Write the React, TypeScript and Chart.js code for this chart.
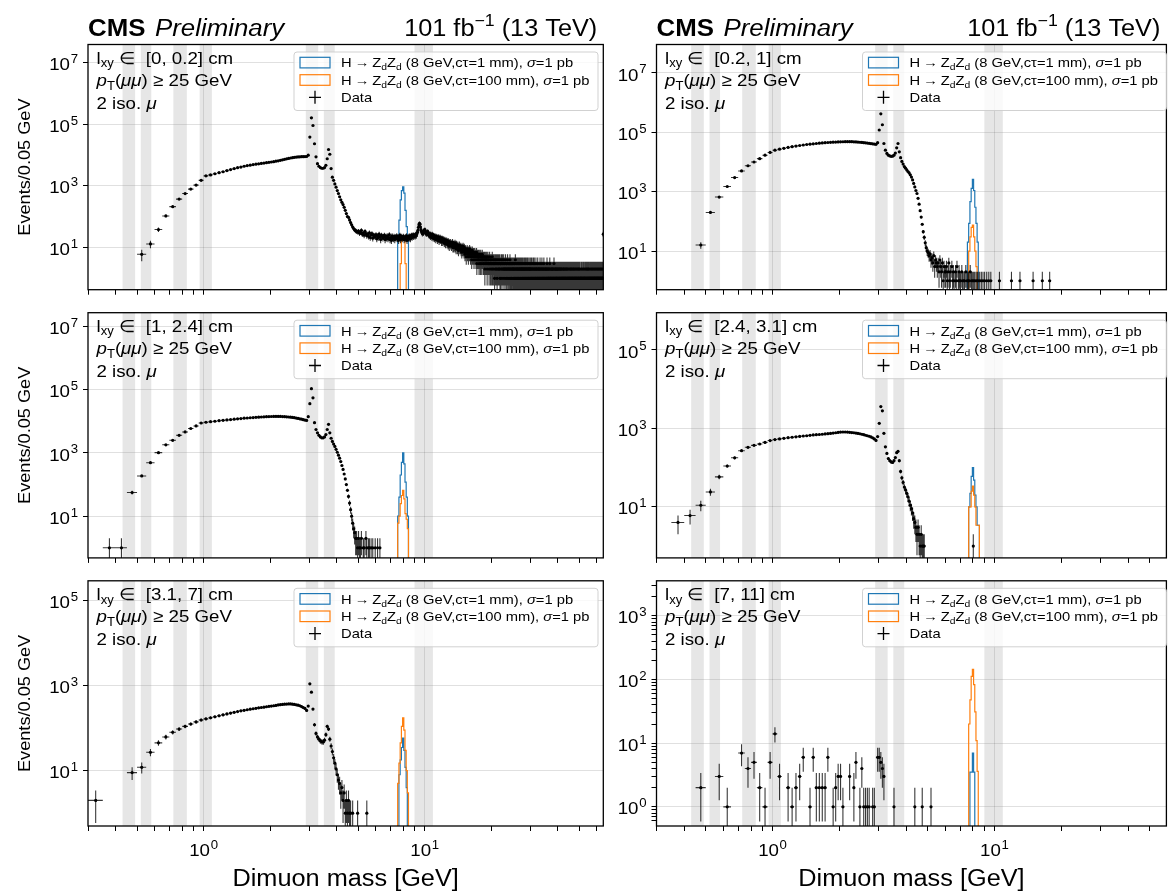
import React, { useEffect, useRef } from 'react';
import { Chart, registerables } from 'chart.js';

Chart.register(...registerables);

// ---------------- data ----------------
const BIN_WIDTH = 0.05;
const FIRST_BIN_CENTER = 0.325;
const SIGNAL_BIN_WIDTH = 0.1;
const SIGNAL_FIRST_CENTER = 7.4;

const VETO_BANDS: [number, number][] = [
  [0.43, 0.49], [0.52, 0.58], [0.73, 0.84], [0.96, 1.09], [2.9, 3.3], [3.5, 3.92], [9.0, 10.9],
];

const X_TICKS = [0.3, 0.4, 0.5, 0.6, 0.7, 0.8, 0.9, 1, 2, 3, 4, 5, 6, 7, 8, 9, 10, 20, 30, 40, 50, 60];
const X_LABELED = [1, 10];

const IXY_RANGES = ['[0, 0.2]', '[0.2, 1]', '[1, 2.4]', '[2.4, 3.1]', '[3.1, 7]', '[7, 11]'];
const CTAU_LABELS = ['1', '100'];

// counts per 0.05 GeV bin, first bin centred at 0.325 GeV
const lowTL = [
  0, 0, 0, 0, 6, 13, 38, 105, 210, 370,
  560, 780, 1050, 1500, 2100, 2250, 2450, 2650, 2850, 3100,
  3350, 3600, 3850, 4050, 4300, 4500, 4650, 4850, 5000, 5150,
  5300, 5450, 5600, 5750, 5900, 6050, 6250, 6450, 6700, 6950,
  7200, 7450, 7700, 7950, 8150, 8350, 8500, 8600, 8700, 8750,
  8800, 8850, 8900, 9800, 38000, 160000, 90000, 23000, 8700, 5200,
  4300, 3900, 3700, 3700, 3900, 4600, 7500, 15000, 10500, 3600,
  1900, 1500, 1150, 900, 700, 560, 440, 350, 290, 245,
  200, 160, 125, 100, 95, 78, 64, 54, 46, 41,
  37, 35, 33, 32,
];
const tailTL_5to10 = [
  34, 29, 31, 36, 27, 30, 25, 33, 28, 24,
  27, 23, 30, 21, 26, 28, 20, 25, 24, 22,
  26, 19, 24, 21, 27, 22, 18, 25, 23, 20,
  22, 25, 18, 23, 20, 24, 19, 21, 26, 18,
  21, 17, 24, 20, 19, 23, 18, 22, 20, 24,
  19, 22, 17, 21, 25, 18, 20, 23, 19, 21,
  23, 18, 20, 22, 19, 24, 17, 21, 20, 23,
  20, 24, 19, 22, 25, 21, 23, 26, 22, 24,
  25, 23, 27, 24, 28, 31, 36, 45, 54, 61,
  57, 46, 38, 33, 30, 28, 32, 29, 34, 37,
];
const tailTL_10to15 = [
  38, 33, 30, 27, 31, 29, 33, 28, 25, 27,
  24, 28, 22, 26, 25, 21, 27, 23, 20, 25,
  22, 19, 24, 21, 18, 23, 20, 22, 17, 21,
  19, 22, 16, 20, 18, 21, 17, 19, 15, 20,
  18, 15, 19, 16, 17, 14, 18, 16, 13, 17,
  15, 17, 13, 16, 14, 12, 16, 15, 11, 14,
  13, 15, 12, 14, 11, 13, 12, 15, 10, 13,
  12, 10, 13, 11, 14, 10, 12, 9, 13, 11,
  11, 9, 12, 10, 8, 11, 10, 12, 9, 10,
  9, 11, 8, 10, 7, 10, 9, 8, 11, 8,
];
const tailTL_15to30 = [
  9, 7, 10, 8, 6, 9, 8, 7, 5, 8, 7, 9, 6, 8, 7, 5, 8, 6, 7, 9,
  6, 7, 5, 8, 6, 7, 4, 6, 8, 5, 7, 6, 5, 7, 4, 6, 5, 7, 6, 5,
  6, 4, 5, 7, 3, 5, 6, 4, 5, 6, 4, 5, 3, 6, 4, 5, 5, 3, 6, 4,
  5, 4, 3, 5, 6, 4, 4, 5, 3, 5, 4, 3, 5, 4, 2, 4, 5, 3, 4, 4,
  3, 5, 4, 2, 4, 3, 5, 3, 4, 3, 4, 2, 3, 5, 3, 4, 3, 2, 4, 3,
  3, 4, 2, 3, 5, 3, 2, 4, 3, 3, 4, 2, 3, 3, 1, 4, 3, 2, 4, 3,
  2, 3, 4, 2, 3, 1, 3, 4, 2, 3, 3, 2, 4, 3, 2, 3, 2, 4, 1, 3,
  2, 3, 3, 1, 4, 2, 3, 2, 3, 4, 2, 3, 1, 3, 2, 4, 2, 3, 2, 2,
  3, 1, 3, 2, 4, 2, 2, 3, 1, 3, 2, 3, 2, 2, 4, 1, 3, 2, 3, 2,
  2, 1, 3, 3, 2, 2, 4, 1, 2, 3, 2, 3, 1, 2, 3, 2, 1, 3, 2, 2,
  3, 2, 1, 2, 3, 2, 2, 1, 3, 2, 1, 3, 2, 2, 4, 1, 2, 3, 1, 2,
  2, 3, 1, 2, 2, 1, 3, 2, 2, 1, 3, 2, 1, 2, 3, 2, 1, 2, 2, 3,
  1, 2, 2, 1, 3, 2, 2, 1, 2, 3, 2, 1, 2, 2, 1, 3, 2, 1, 2, 2,
  1, 2, 3, 1, 2, 2, 1, 2, 3, 1, 2, 2, 1, 3, 2, 1, 2, 2, 1, 2,
  3, 1, 2, 1, 2, 2, 3, 1, 2, 1, 2, 2, 1, 2, 3, 1, 2, 2, 1, 2,
];
const tailTL_30to64 = [
  2, 1, 1, 3, 2, 0, 2, 1, 2, 1, 3, 1, 2, 0, 1, 2, 2, 1, 1, 3,
  1, 2, 0, 2, 1, 1, 3, 2, 1, 0, 2, 1, 2, 1, 1, 2, 0, 3, 1, 2,
  1, 0, 2, 2, 1, 1, 2, 0, 1, 3, 1, 2, 1, 1, 0, 2, 2, 1, 2, 1,
  2, 1, 0, 1, 2, 3, 1, 1, 2, 0, 1, 2, 1, 0, 2, 1, 1, 2, 3, 1,
  0, 2, 1, 1, 2, 1, 0, 2, 1, 2, 1, 1, 3, 0, 1, 2, 1, 0, 2, 1,
  1, 1, 2, 0, 1, 2, 2, 1, 0, 1, 2, 1, 1, 2, 0, 3, 1, 1, 2, 1,
  2, 0, 1, 1, 2, 1, 1, 0, 2, 1, 1, 2, 0, 1, 2, 1, 3, 1, 0, 1,
  1, 2, 1, 0, 1, 1, 2, 1, 2, 0, 1, 1, 2, 1, 0, 2, 1, 1, 1, 2,
  0, 1, 2, 1, 1, 0, 2, 1, 1, 3, 1, 0, 1, 2, 1, 1, 0, 2, 1, 1,
  2, 1, 0, 1, 2, 1, 1, 2, 0, 1, 1, 2, 1, 0, 1, 1, 2, 0, 1, 2,
  1, 0, 1, 2, 1, 1, 0, 1, 2, 1, 0, 1, 1, 2, 1, 0, 2, 1, 1, 0,
  1, 2, 1, 1, 0, 1, 2, 0, 1, 1, 2, 1, 0, 1, 1, 2, 1, 0, 1, 1,
  0, 1, 1, 2, 1, 0, 1, 1, 2, 1, 1, 0, 2, 1, 0, 1, 1, 2, 0, 1,
  1, 1, 0, 1, 2, 1, 1, 0, 1, 1, 2, 0, 1, 1, 1, 0, 2, 1, 1, 0,
  2, 1, 0, 1, 1, 0, 1, 2, 1, 1, 0, 1, 1, 0, 2, 1, 1, 0, 1, 1,
  1, 0, 1, 1, 2, 1, 0, 1, 1, 0, 1, 2, 1, 1, 0, 1, 0, 1, 2, 1,
  1, 1, 0, 2, 1, 0, 1, 1, 1, 0, 1, 1, 2, 0, 1, 1, 0, 1, 1, 2,
  0, 1, 1, 0, 1, 2, 1, 0, 1, 1, 0, 1, 1, 2, 1, 0, 1, 0, 1, 1,
  1, 2, 0, 1, 1, 0, 1, 1, 0, 2, 1, 1, 0, 1, 1, 1, 0, 1, 2, 0,
  1, 1, 0, 1, 0, 1, 2, 1, 1, 0, 1, 1, 0, 1, 1, 2, 0, 1, 1, 0,
  2, 0, 1, 1, 0, 1, 1, 0, 1, 2, 1, 0, 1, 1, 0, 1, 1, 1, 0, 1,
  1, 0, 1, 2, 1, 1, 0, 1, 1, 0, 1, 0, 2, 1, 1, 0, 1, 1, 0, 1,
  0, 1, 1, 1, 0, 2, 1, 0, 1, 1, 0, 1, 1, 0, 1, 2, 1, 0, 1, 1,
  1, 1, 0, 1, 1, 0, 1, 1, 2, 0, 1, 1, 0, 1, 0, 1, 1, 2, 1, 0,
  1, 0, 1, 1, 0, 1, 2, 0, 1, 1, 1, 0, 1, 1, 0, 1, 0, 2, 1, 1,
  0, 1, 2, 1, 0, 1, 1, 0, 1, 1, 0, 1, 1, 1, 0, 2, 1, 0, 1, 1,
  1, 1, 0, 1, 1, 0, 1, 2, 0, 1, 1, 0, 1, 1, 1, 0, 1, 1, 0, 2,
  1, 0, 1, 1, 0, 1, 1, 0, 2, 1, 0, 1, 1, 0, 1, 1, 1, 0, 1, 1,
  0, 2, 1, 0, 1, 1, 0, 1, 1, 1, 0, 1, 2, 0, 1, 1, 0, 1, 1, 0,
  1, 1, 0, 1, 1, 2, 0, 1, 0, 1, 1, 1, 0, 1, 1, 0, 2, 1, 0, 1,
  1, 0, 1, 1, 0, 1, 1, 1, 0, 1, 2, 0, 1, 1, 0, 1, 1, 0, 1, 1,
  2, 1, 0, 1, 1, 0, 1, 0, 1, 1, 1, 0, 1, 2, 0, 1, 1, 0, 1, 1,
  0, 1, 1, 0, 1, 1, 2, 0, 1, 1, 0, 1, 1, 0, 1, 1, 0, 2, 1, 1,
  1, 0, 1, 1, 0, 1, 1, 0, 1, 2, 1, 0, 1, 1, 0, 1, 1, 0, 1, 1,
  0, 1, 1, 2, 1, 27,
];

const lowTR = [
  0, 0, 0, 16, 200, 660, 1500, 3000, 5000, 7500,
  10000, 13000, 17000, 21000, 25000, 27000, 29000, 31000, 33000, 34500,
  36000, 37500, 39000, 40000, 41000, 42000, 43000, 44000, 45000, 45500,
  46000, 46500, 47000, 47500, 48000, 48200, 48500, 48600, 48600, 48400,
  48000, 47600, 47000, 46400, 45700, 45000, 44200, 43400, 42600, 41800,
  41000, 40200, 39500, 45000, 120000, 420000, 180000, 42000, 25000, 19500,
  17000, 16000, 15500, 15800, 17000, 20000, 30000, 42000, 22000, 14000,
  10500, 8500, 7000, 6200, 5400, 4800, 4300, 3700, 3100, 2500,
  1900, 1450, 1100, 870, 600, 380, 230, 140, 80, 45,
  29, 19, 13, 10,
];
const tailTR = [
  9, 7, 8, 5, 6, 4, 7, 3, 5, 4,
  3, 4, 2, 5, 3, 2, 4, 1, 3, 2,
  2, 3, 1, 2, 4, 1, 2, 0, 3, 1,
  2, 1, 0, 2, 1, 3, 0, 1, 2, 1,
  1, 0, 2, 1, 0, 1, 1, 0, 2, 0,
  1, 0, 1, 1, 0, 2, 0, 1, 0, 1,
  0, 1, 0, 1, 0, 0, 1, 0, 1, 0,
  0, 1, 0, 0, 1, 0, 0, 1, 0, 0,
  1, 0, 0, 0, 1, 0, 0, 0, 1, 0,
  0, 0, 1, 0, 0, 0, 0, 0, 0, 0,
];
const sparseTR: [number, number][] = [[10.525, 1], [11.925, 1], [13.025, 1], [14.925, 1], [16.425, 1], [17.725, 1]];

const lowML = [
  0, 1, 1, 56, 187, 490, 1020, 1800, 2500, 3600,
  4600, 5900, 7100, 8800, 9300, 9700, 10000, 10400, 10700, 11000,
  11300, 11600, 11900, 12200, 12500, 12700, 12900, 13100, 13300, 13500,
  13650, 13800, 13950, 14050, 14150, 14200, 14250, 14250, 14200, 14100,
  14000, 13850, 13650, 13450, 13200, 12950, 12650, 12300, 11950, 11600,
  11250, 10900, 10600, 14000, 36000, 107000, 55000, 9000, 5500, 4300,
  3600, 3200, 3000, 3000, 3200, 3800, 5500, 8000, 4300, 2900,
  2300, 1900, 1600, 1300, 1050, 850, 680, 530, 400, 300,
  215, 150, 100, 66, 42, 26, 16, 10, 6, 4,
  3, 2, 2, 1,
];
const tailML = [2, 1, 1, 2, 0, 1, 1, 0, 2, 1, 0, 1, 1, 0, 1, 0, 1, 0, 0, 1, 0, 0, 1, 0, 0, 1];

const lowMR = [
  0, 4, 6, 11, 24, 58, 110, 178, 270, 330,
  370, 400, 440, 490, 520, 540, 560, 580, 595, 610,
  625, 640, 650, 665, 680, 690, 700, 710, 725, 735,
  745, 760, 775, 790, 805, 810, 810, 805, 795, 785,
  775, 760, 745, 730, 710, 690, 670, 650, 630, 605,
  575, 540, 495, 620, 1350, 3600, 2800, 750, 340, 230,
  170, 150, 140, 135, 150, 180, 240, 260, 150, 80,
  55, 42, 32, 27, 22, 18, 14, 11, 9, 7,
  5, 4, 3, 2, 3, 2, 1, 2, 1, 1,
  1, 0, 0, 0,
];
const sparseMR: [number, number][] = [[8.025, 1]];

const lowBL = [
  2, 0, 0, 9, 12, 27, 45, 62, 80, 95,
  110, 125, 140, 155, 165, 175, 185, 195, 205, 215,
  225, 235, 245, 255, 262, 270, 278, 285, 292, 300,
  305, 310, 318, 325, 330, 335, 342, 350, 355, 360,
  365, 368, 370, 370, 365, 360, 352, 345, 335, 320,
  305, 290, 260, 330, 1100, 700, 280, 120, 75, 62,
  55, 50, 48, 47, 52, 70, 110, 95, 55, 38,
  28, 20, 15, 11, 8, 6, 5, 3, 4, 2,
  3, 1, 2, 1, 2, 1, 1, 0, 1, 0,
  0, 0, 0, 1,
];
const sparseBL: [number, number][] = [[5.475, 1]];

const lowBR = [
  0, 0, 0, 2, 0, 3, 1, 0, 7, 4,
  5, 2, 1, 5, 14, 3, 0, 2, 1, 2,
  3, 6, 0, 1, 6, 2, 2, 2, 2, 6,
  0, 1, 2, 3, 3, 1, 0, 0, 3, 0,
  2, 5, 0, 1, 4, 1, 1, 1, 1, 0,
  1, 1, 0, 6, 6, 5, 4, 3, 0, 0,
  0, 0, 0, 0, 1, 0, 0, 0, 0, 0,
  0, 0, 0, 0, 0, 0, 0, 0, 0, 0,
  0, 1, 0, 0, 0, 0, 0, 0, 1, 0,
  0, 0, 0, 0, 0, 0, 0, 1,
];

// signal histograms: 13 bins of 0.1 GeV, first centred at 7.4 GeV
const blueTL = [0, 0, 17, 77, 350, 700, 930, 580, 160, 47, 17, 0, 0];
const orangeTL = [0, 0, 0, 0, 3, 17, 18, 17, 3, 0, 0, 0, 0];
const blueTR = [0, 0, 20, 86, 460, 1300, 2600, 1100, 300, 86, 20, 0, 0];
const orangeTR = [0, 0, 0, 10, 30, 63, 75, 30, 10, 3, 0, 0, 0];
const blueML = [0, 0, 10, 40, 200, 500, 1000, 450, 120, 40, 10, 0, 0];
const orangeML = [0, 0, 6, 10, 25, 45, 66, 35, 12, 8, 4, 0, 0];
const blueMR = [0, 0, 0, 10, 22, 60, 100, 48, 20, 10, 3.4, 3.4, 0];
const orangeMR = [0, 0, 0, 10, 10, 25, 34, 20, 10, 3.4, 3.4, 3.4, 0];
const blueBL = [0, 0, 0, 8, 18, 35, 58, 30, 12, 4, 0, 0, 0];
const orangeBL = [0, 0, 5, 15, 45, 110, 174, 90, 30, 10, 3, 0, 0];
const blueBR = [0, 0, 0, 0, 3.5, 3.5, 7, 3.5, 0, 0, 0, 0, 0];
const orangeBR = [0, 0, 0, 20, 48, 112, 144, 83, 31, 11, 3.6, 0, 0];

const Y_TICKS_7 = [10, 1e3, 1e5, 1e7];
const Y_TICKS_5 = [10, 1e3, 1e5];
const Y_TICKS_BR_MAJOR = [1, 10, 100, 1000];
const Y_TICKS_BR_MINOR = [0.6, 0.7, 0.8, 0.9, 2, 3, 4, 5, 6, 7, 8, 9, 20, 30, 40, 50, 60, 70, 80, 90, 200, 300, 400, 500, 600, 700, 800, 900, 2000, 3000];

// ---------------- layout / style ----------------
const W = 1168;
const H = 894;
const FONT = '"Liberation Sans", Arial, Helvetica, sans-serif';
const SX = 1.1;
const BLUE = '#1f77b4';
const ORANGE = '#ff7f0e';
const GRID = 'rgba(0,0,0,0.12)';
const NONE = 'rgba(0,0,0,0)';
const COL_LEFT = [88, 656.5];
const COL_RIGHT = [603.3, 1167];
const ROW_TOP = [44.5, 312.7, 580.8];
const ROW_BOTTOM = [289.7, 557.9, 826];
const X_MIN = 0.3;
const X_MAX = [64.3, 59.5];
const YW = 60;
const XH = 40;

type PanelSpec = {
  key: string; col: number; row: number; ixy: string;
  counts: number[]; sparse: [number, number][];
  blue: number[]; orange: number[];
  yMin: number; yMax: number; yTicks: number[]; yLabeled: number[];
};

const PANELS: PanelSpec[] = [
  { key: 'TL', col: 0, row: 0, ixy: IXY_RANGES[0], counts: [...lowTL, ...tailTL_5to10, ...tailTL_10to15, ...tailTL_15to30, ...tailTL_30to64], sparse: [], blue: blueTL, orange: orangeTL, yMin: 0.427, yMax: 3.8e7, yTicks: Y_TICKS_7, yLabeled: Y_TICKS_7 },
  { key: 'TR', col: 1, row: 0, ixy: IXY_RANGES[1], counts: [...lowTR, ...tailTR], sparse: sparseTR, blue: blueTR, orange: orangeTR, yMin: 0.5, yMax: 9.1e7, yTicks: Y_TICKS_7, yLabeled: Y_TICKS_7 },
  { key: 'ML', col: 0, row: 1, ixy: IXY_RANGES[2], counts: [...lowML, ...tailML], sparse: [], blue: blueML, orange: orangeML, yMin: 0.48, yMax: 2.7e7, yTicks: Y_TICKS_7, yLabeled: Y_TICKS_7 },
  { key: 'MR', col: 1, row: 1, ixy: IXY_RANGES[3], counts: lowMR, sparse: sparseMR, blue: blueMR, orange: orangeMR, yMin: 0.5, yMax: 8.9e5, yTicks: Y_TICKS_5, yLabeled: Y_TICKS_5 },
  { key: 'BL', col: 0, row: 2, ixy: IXY_RANGES[4], counts: lowBL, sparse: sparseBL, blue: blueBL, orange: orangeBL, yMin: 0.5, yMax: 2.9e5, yTicks: Y_TICKS_5, yLabeled: Y_TICKS_5 },
  { key: 'BR', col: 1, row: 2, ixy: IXY_RANGES[5], counts: lowBR, sparse: [], blue: blueBR, orange: orangeBR, yMin: 0.5, yMax: 3550, yTicks: [...Y_TICKS_BR_MAJOR, ...Y_TICKS_BR_MINOR], yLabeled: Y_TICKS_BR_MAJOR },
];

// ---------------- helpers ----------------
function binPoints(counts: number[], sparse: [number, number][]) {
  const pts: { x: number; y: number }[] = [];
  counts.forEach((c, i) => {
    if (c > 0) pts.push({ x: FIRST_BIN_CENTER + i * BIN_WIDTH, y: c });
  });
  sparse.forEach(([m, c]) => pts.push({ x: m, y: c }));
  return pts;
}

function stepPoints(vals: number[], base: number) {
  const first = vals.findIndex((v) => v > 0);
  let last = vals.length - 1;
  while (last >= 0 && !(vals[last] > 0)) last--;
  const edge = (i: number) => SIGNAL_FIRST_CENTER - SIGNAL_BIN_WIDTH / 2 + i * SIGNAL_BIN_WIDTH;
  const pts: { x: number; y: number }[] = [{ x: edge(first), y: base }];
  for (let i = first; i <= last; i++) {
    const v = vals[i] > 0 ? vals[i] : base;
    pts.push({ x: edge(i), y: v }, { x: edge(i + 1), y: v });
  }
  pts.push({ x: edge(last + 1), y: base });
  return pts;
}

type Seg = { t: string; style?: 'n' | 'i' | 'b'; pos?: 'sub' | 'sup' };
function fontStr(style: string | undefined, size: number) {
  return `${style === 'i' ? 'italic ' : ''}${style === 'b' ? 'bold ' : ''}${size}px ${FONT}`;
}
function richWidth(ctx: CanvasRenderingContext2D, segs: Seg[], size: number) {
  let w = 0;
  for (const s of segs) {
    ctx.font = fontStr(s.style, s.pos ? size * 0.7 : size);
    w += ctx.measureText(s.t).width;
  }
  return w;
}
function drawRich(ctx: CanvasRenderingContext2D, x: number, y: number, segs: Seg[], size: number, align: 'left' | 'right' | 'center' = 'left', rotate = 0) {
  ctx.save();
  ctx.translate(x, y);
  if (rotate) ctx.rotate(rotate);
  ctx.scale(SX, 1);
  ctx.fillStyle = '#000';
  ctx.textAlign = 'left';
  ctx.textBaseline = 'alphabetic';
  const w = richWidth(ctx, segs, size);
  let cx = align === 'right' ? -w : align === 'center' ? -w / 2 : 0;
  for (const s of segs) {
    const sz = s.pos ? size * 0.7 : size;
    ctx.font = fontStr(s.style, sz);
    const dy = s.pos === 'sub' ? size * 0.22 : s.pos === 'sup' ? -size * 0.42 : 0;
    ctx.fillText(s.t, cx, dy);
    cx += ctx.measureText(s.t).width;
  }
  ctx.restore();
}

// tick label "10^e", mathtext style
function drawPow(ctx: CanvasRenderingContext2D, x: number, y: number, e: number, align: 'right' | 'center') {
  const bs = 17;
  const es = 12;
  ctx.save();
  ctx.font = `${bs}px ${FONT}`;
  const wb = ctx.measureText('10').width;
  ctx.font = `${es}px ${FONT}`;
  const we = ctx.measureText(String(e)).width;
  const tw = (wb + 0.6 + we) * SX;
  const x0 = align === 'right' ? x - tw : x - tw / 2;
  ctx.translate(x0, y);
  ctx.scale(SX, 1);
  ctx.fillStyle = '#000';
  ctx.textAlign = 'left';
  ctx.textBaseline = 'alphabetic';
  ctx.font = `${bs}px ${FONT}`;
  ctx.fillText('10', 0, 0);
  ctx.font = `${es}px ${FONT}`;
  ctx.fillText(String(e), wb + 0.6, -bs * 0.42);
  ctx.restore();
}

function signalLabel(ct: string): Seg[] {
  return [
    { t: 'H\u2009→\u2009Z' }, { t: 'd', pos: 'sub' }, { t: 'Z' }, { t: 'd', pos: 'sub' },
    { t: ` (8 GeV,cτ=${ct} mm), ` }, { t: 'σ', style: 'i' }, { t: '=1 pb' },
  ];
}

function drawLegend(ctx: CanvasRenderingContext2D, x0: number, y0: number) {
  const w = 304;
  const h = 58.5;
  ctx.save();
  ctx.beginPath();
  (ctx as any).roundRect(x0, y0, w, h, 3);
  ctx.fillStyle = 'rgba(255,255,255,0.8)';
  ctx.fill();
  ctx.strokeStyle = 'rgba(204,204,204,0.9)';
  ctx.lineWidth = 1;
  ctx.stroke();
  const rows = [y0 + 10.6, y0 + 28, y0 + 45.3];
  ctx.lineWidth = 1.2;
  ctx.strokeStyle = BLUE;
  ctx.strokeRect(x0 + 6, rows[0] - 5.3, 30, 10.6);
  ctx.strokeStyle = ORANGE;
  ctx.strokeRect(x0 + 6, rows[1] - 5.3, 30, 10.6);
  ctx.strokeStyle = '#000';
  ctx.lineWidth = 1.3;
  ctx.beginPath();
  ctx.moveTo(x0 + 15, rows[2]);
  ctx.lineTo(x0 + 27, rows[2]);
  ctx.moveTo(x0 + 21, rows[2] - 6.5);
  ctx.lineTo(x0 + 21, rows[2] + 6.5);
  ctx.stroke();
  ctx.restore();
  const fs = 13.4;
  drawRich(ctx, x0 + 47, rows[0] + 0.36 * fs, signalLabel(CTAU_LABELS[0]), fs);
  drawRich(ctx, x0 + 47, rows[1] + 0.36 * fs, signalLabel(CTAU_LABELS[1]), fs);
  drawRich(ctx, x0 + 47, rows[2] + 0.36 * fs, [{ t: 'Data' }], fs);
}

function makePlugin(p: PanelSpec) {
  return {
    id: 'cmsDecor' + p.key,
    beforeDatasetsDraw(chart: any) {
      const { ctx, chartArea: a, scales } = chart;
      const x = scales.x;
      ctx.save();
      ctx.beginPath();
      ctx.rect(a.left, a.top, a.right - a.left, a.bottom - a.top);
      ctx.clip();
      ctx.fillStyle = 'rgba(128,128,128,0.2)';
      for (const [lo, hi] of VETO_BANDS) {
        const x0 = x.getPixelForValue(lo);
        const x1 = x.getPixelForValue(hi);
        ctx.fillRect(x0, a.top, x1 - x0, a.bottom - a.top);
      }
      ctx.restore();
    },
    beforeDatasetDraw(chart: any, args: any) {
      if (args.index !== 0) return;
      const { ctx, chartArea: a, scales } = chart;
      const x = scales.x;
      const y = scales.y;
      const pts = chart.data.datasets[0].data as { x: number; y: number }[];
      ctx.save();
      ctx.beginPath();
      ctx.rect(a.left, a.top, a.right - a.left, a.bottom - a.top);
      ctx.clip();
      ctx.strokeStyle = 'rgba(0,0,0,0.78)';
      ctx.lineWidth = 1.1;
      ctx.beginPath();
      for (const pt of pts) {
        const err = Math.sqrt(pt.y);
        const lo = pt.y - err;
        const hi = pt.y + err;
        const px = x.getPixelForValue(pt.x);
        const py = y.getPixelForValue(pt.y);
        const yLo = lo > 0 ? Math.min(y.getPixelForValue(lo), a.bottom) : a.bottom;
        const yHi = y.getPixelForValue(hi);
        ctx.moveTo(px, yLo);
        ctx.lineTo(px, yHi);
        const xl = x.getPixelForValue(pt.x - BIN_WIDTH / 2);
        const xr = x.getPixelForValue(pt.x + BIN_WIDTH / 2);
        ctx.moveTo(xl, py);
        ctx.lineTo(xr, py);
      }
      ctx.stroke();
      ctx.restore();
    },
    afterDraw(chart: any) {
      const { ctx, chartArea: a, scales } = chart;
      ctx.save();
      ctx.strokeStyle = '#000';
      ctx.lineWidth = 1.3;
      ctx.strokeRect(a.left, a.top, a.right - a.left, a.bottom - a.top);
      ctx.restore();

      // tick labels
      for (const v of p.yLabeled) {
        if (v < p.yMin || v > p.yMax) continue;
        drawPow(ctx, a.left - 10, scales.y.getPixelForValue(v) + 7.6, Math.round(Math.log10(v)), 'right');
      }
      if (p.row === 2) {
        for (const v of X_LABELED) {
          drawPow(ctx, scales.x.getPixelForValue(v), a.bottom + 30, Math.round(Math.log10(v)), 'center');
        }
      }

      drawLegend(ctx, a.left + 206, a.top + 7.5);

      const fs = 17;
      drawRich(ctx, a.left + 8.5, a.top + 19, [{ t: 'l' }, { t: 'xy', pos: 'sub' }, { t: ' ∈  ' + p.ixy + ' cm' }], fs);
      drawRich(ctx, a.left + 8.5, a.top + 41.5, [{ t: 'p', style: 'i' }, { t: 'T', pos: 'sub' }, { t: '(' }, { t: 'μμ', style: 'i' }, { t: ') ≥ 25 GeV' }], fs);
      drawRich(ctx, a.left + 8.5, a.top + 64, [{ t: '2 iso. ' }, { t: 'μ', style: 'i' }], fs);

      if (p.row === 0) {
        drawRich(ctx, a.left, a.top - 9, [{ t: 'CMS', style: 'b' }], 23.5);
        drawRich(ctx, a.left + 67, a.top - 9, [{ t: 'Preliminary', style: 'i' }], 23.5);
        drawRich(ctx, a.right - 6, a.top - 9, [{ t: '101 fb' }, { t: '−1', pos: 'sup' }, { t: ' (13 TeV)' }], 23, 'right');
      }
      if (p.col === 0) {
        drawRich(ctx, 30, (a.top + a.bottom) / 2, [{ t: 'Events/0.05 GeV' }], 16.5, 'center', -Math.PI / 2);
      }
      if (p.row === 2) {
        drawRich(ctx, (a.left + a.right) / 2, 886, [{ t: 'Dimuon mass [GeV]' }], 23, 'center');
      }
    },
  };
}

function buildConfig(p: PanelSpec): any {
  const fl = COL_LEFT[p.col];
  const fr = COL_RIGHT[p.col];
  const ft = ROW_TOP[p.row];
  const fb = ROW_BOTTOM[p.row];
  const xMax = X_MAX[p.col];
  const tickFont = { family: FONT, size: 17 };
  return {
    type: 'scatter',
    data: {
      datasets: [
        { label: 'Data', data: binPoints(p.counts, p.sparse), showLine: false, pointRadius: 1.6, pointBackgroundColor: '#000', pointBorderWidth: 0, pointHoverRadius: 1.6, clip: 0 },
        { label: 'cτ=100 mm', data: stepPoints(p.orange, p.yMin), showLine: true, borderColor: ORANGE, borderWidth: 1.2, pointRadius: 0, pointHoverRadius: 0, fill: false, tension: 0, clip: 0 },
        { label: 'cτ=1 mm', data: stepPoints(p.blue, p.yMin), showLine: true, borderColor: BLUE, borderWidth: 1.2, pointRadius: 0, pointHoverRadius: 0, fill: false, tension: 0, clip: 0 },
      ],
    },
    options: {
      responsive: false,
      maintainAspectRatio: false,
      animation: false,
      devicePixelRatio: 1,
      events: [],
      layout: { padding: { left: fl - YW, right: W - fr, top: ft, bottom: H - fb - XH } },
      plugins: { legend: { display: false }, tooltip: { enabled: false }, title: { display: false } },
      scales: {
        x: {
          type: 'logarithmic', position: 'bottom', min: X_MIN, max: xMax, bounds: 'data',
          afterBuildTicks: (s: any) => { s.ticks = X_TICKS.filter((v) => v <= xMax).map((v) => ({ value: v })); },
          afterFit: (s: any) => { s.height = XH; s.paddingLeft = 0; s.paddingRight = 0; },
          ticks: { autoSkip: false, maxRotation: 0, minRotation: 0, padding: 5, color: '#000', font: tickFont, callback: () => '' },
          grid: {
            color: (c: any) => (c.tick && X_LABELED.includes(c.tick.value) ? GRID : NONE),
            lineWidth: 1, tickColor: '#000', tickLength: 5, tickWidth: 1,
          },
          border: { display: false },
        },
        y: {
          type: 'logarithmic', position: 'left', min: p.yMin, max: p.yMax, bounds: 'data',
          afterBuildTicks: (s: any) => { s.ticks = p.yTicks.filter((v) => v >= p.yMin && v <= p.yMax).map((v) => ({ value: v })); },
          afterFit: (s: any) => { s.width = YW; s.paddingTop = 0; s.paddingBottom = 0; },
          ticks: { autoSkip: false, padding: 5, color: '#000', font: tickFont, callback: () => '' },
          grid: {
            color: (c: any) => (c.tick && p.yLabeled.includes(c.tick.value) ? GRID : NONE),
            lineWidth: 1, tickColor: '#000', tickLength: 5, tickWidth: 1,
          },
          border: { display: false },
        },
      },
    },
    plugins: [makePlugin(p)],
  };
}

function PanelCanvas({ panel }: { panel: PanelSpec }) {
  const ref = useRef<HTMLCanvasElement>(null);
  useEffect(() => {
    if (!ref.current) return;
    const chart = new Chart(ref.current, buildConfig(panel));
    return () => chart.destroy();
  }, [panel]);
  return <canvas ref={ref} width={W} height={H} style={{ position: 'absolute', left: 0, top: 0 }} />;
}

export default function App() {
  return (
    <div style={{ position: 'fixed', left: 0, top: 0, width: W, height: H, background: '#fff', overflow: 'hidden' }}>
      {PANELS.map((p) => (
        <PanelCanvas key={p.key} panel={p} />
      ))}
    </div>
  );
}
